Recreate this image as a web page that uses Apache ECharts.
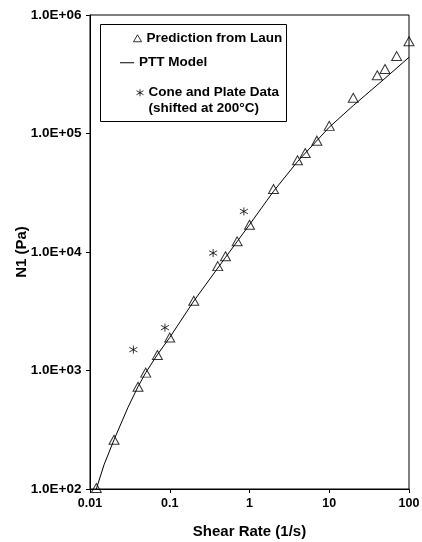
<!DOCTYPE html>
<html>
<head>
<meta charset="utf-8">
<script src="https://cdn.jsdelivr.net/npm/echarts@6/dist/echarts.min.js"></script>
<style>
html,body{margin:0;padding:0;background:#fff;}
#chart{width:422px;height:542px;}
</style>
</head>
<body>
<div id="chart"></div>
<script>
// Data
var launX = [0.012, 0.02, 0.04, 0.05, 0.07, 0.1, 0.2, 0.4, 0.5, 0.7, 1, 2, 4, 5, 7, 10, 20, 40, 50, 70, 100];
var launY = [102, 260, 730, 960, 1350, 1900, 3880, 7600, 9200, 12300, 17000, 34000, 59500, 68500, 87000, 116000, 200000, 310000, 350000, 450000, 600000];
var pttX = [0.012, 0.015, 0.02, 0.03, 0.04, 0.05, 0.07, 0.1, 0.2, 0.5, 1, 2, 4, 10, 20, 50, 100];
var pttY = [100, 160, 260, 490, 730, 960, 1360, 1900, 3850, 9000, 17000, 32500, 58000, 113000, 172000, 292000, 440000];
var coneX = [0.035, 0.087, 0.35, 0.85];
var coneY = [1500, 2300, 9800, 22000];
var xTickLabels = ['0.01', '0.1', '1', '10', '100'];
var yTickLabels = ['1.0E+02', '1.0E+03', '1.0E+04', '1.0E+05', '1.0E+06'];
var seriesNames = ['Prediction from Laun', 'PTT Model', 'Cone and Plate Data\n(shifted at 200\u00B0C)'];
var xAxisName = 'Shear Rate (1/s)';
var yAxisName = 'N1 (Pa)';

function zip(a, b) { return a.map(function (v, i) { return [v, b[i]]; }); }

var FONT = 'Liberation Sans';
var asterisk = 'path://M4,0 L4,8 M0,1.7 L8,6.3 M0,6.3 L8,1.7';

var chart = echarts.init(document.getElementById('chart'), null, {renderer: 'canvas'});
var legendText = {fontFamily: FONT, fontWeight: 'bold', fontSize: 13.5, color: '#000', lineHeight: 15.5};

chart.setOption({
  animation: false,
  backgroundColor: '#fff',
  grid: {left: 90, right: 13, top: 15, bottom: 53, containLabel: false, outerBoundsMode: 'none',
    show: true, borderColor: '#000', borderWidth: 1, backgroundColor: 'transparent'},
  xAxis: {
    type: 'log', logBase: 10, min: 0.01, max: 100,
    name: xAxisName, nameLocation: 'middle', nameGap: 35, nameMoveOverlap: false,
    nameTextStyle: {fontFamily: FONT, fontWeight: 'bold', fontSize: 15, color: '#000'},
    axisLine: {lineStyle: {color: '#000', width: 1}},
    axisTick: {show: true, length: 4, lineStyle: {color: '#000'}},
    minorTick: {show: false},
    splitLine: {show: false},
    axisLabel: {
      fontFamily: FONT, fontWeight: 'bold', fontSize: 12.5, color: '#000', margin: 8,
      formatter: function (v) { return xTickLabels[Math.round(Math.log10(v)) + 2]; }
    }
  },
  yAxis: {
    type: 'log', logBase: 10, min: 100, max: 1000000,
    name: yAxisName, nameLocation: 'middle', nameGap: 61, nameRotate: 90, nameMoveOverlap: false,
    nameTextStyle: {fontFamily: FONT, fontWeight: 'bold', fontSize: 15, color: '#000'},
    axisLine: {lineStyle: {color: '#000', width: 1}},
    axisTick: {show: true, length: 4, lineStyle: {color: '#000'}},
    minorTick: {show: false},
    splitLine: {show: false},
    axisLabel: {
      fontFamily: FONT, fontWeight: 'bold', fontSize: 13.5, color: '#000', margin: 8.5,
      formatter: function (v) { return yTickLabels[Math.round(Math.log10(v)) - 2]; }
    }
  },
  legend: [
    {data: [seriesNames[0]], left: 133, top: 30.5, padding: 0, itemWidth: 8, itemHeight: 7, selectedMode: false,
      itemStyle: {borderWidth: 1}, textStyle: legendText},
    {data: [{name: seriesNames[1], icon: 'rect'}], left: 120, top: 55, padding: 0, itemWidth: 14, itemHeight: 1, selectedMode: false,
      itemStyle: {color: '#000'}, textStyle: legendText},
    {data: [seriesNames[2]], left: 134, top: 69.5, padding: 0, itemWidth: 7, itemHeight: 7, selectedMode: false,
      itemStyle: {borderWidth: 1},
      formatter: function (n) { return '\n' + n; },
      textStyle: legendText}
  ],
  graphic: [{
    type: 'rect', shape: {x: 100.5, y: 24.5, width: 186, height: 97}, silent: true,
    style: {fill: 'none', stroke: '#000', lineWidth: 1}, z: 100
  }],
  series: [
    {
      name: seriesNames[0], type: 'scatter', data: zip(launX, launY),
      symbol: 'triangle', symbolSize: [10, 9],
      itemStyle: {color: 'rgba(255,255,255,0)', borderColor: '#000', borderWidth: 1},
      z: 3
    },
    {
      name: seriesNames[1], type: 'line', data: zip(pttX, pttY),
      symbol: 'none', smooth: false,
      lineStyle: {color: '#000', width: 1}, itemStyle: {color: '#000'},
      z: 2
    },
    {
      name: seriesNames[2], type: 'scatter', data: zip(coneX, coneY),
      symbol: asterisk, symbolSize: [8, 8],
      itemStyle: {color: 'none', borderColor: '#000', borderWidth: 1},
      z: 3
    }
  ]
});
</script>
</body>
</html>
